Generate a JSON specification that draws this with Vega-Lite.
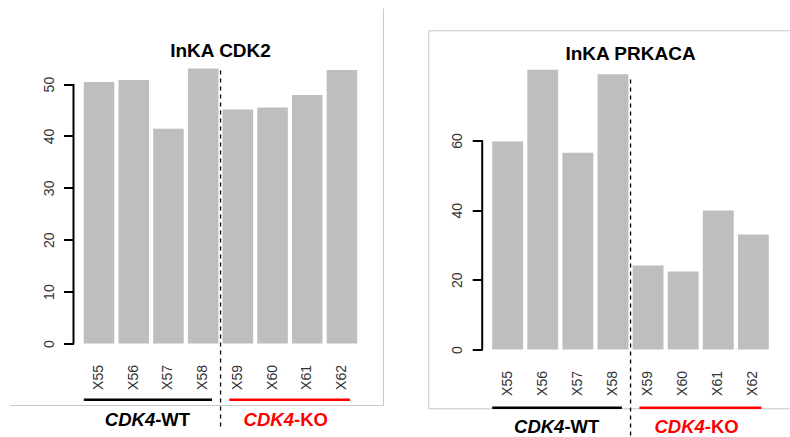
{
  "$schema": "https://vega.github.io/schema/vega-lite/v6.json",
  "padding": {"left": 9.5, "top": 7.5, "right": 0, "bottom": 0},
  "bounds": "flush",
  "spacing": 98.7,
  "config": {
    "font": "Liberation Sans",
    "view": {"stroke": null},
    "axis": {"grid": false},
    "axisX": {"domain": false, "ticks": false, "labelAngle": -90, "labelAlign": "right", "labelBaseline": "middle", "labelPadding": 21, "labelFontSize": 14, "labelColor": "#333333"},
    "axisY": {"domain": false, "ticks": true, "tickSize": 10, "tickWidth": 2, "tickColor": "#000000", "labelAngle": -90, "labelAlign": "center", "labelBaseline": "alphabetic", "labelPadding": 10, "labelFontSize": 14, "labelColor": "#333333"}
  },
  "datasets": {
    "cdk2": [
      {"sample": "X55", "value": 50.4},
      {"sample": "X56", "value": 50.8},
      {"sample": "X57", "value": 41.4},
      {"sample": "X58", "value": 53.0},
      {"sample": "X59", "value": 45.1},
      {"sample": "X60", "value": 45.5},
      {"sample": "X61", "value": 47.9},
      {"sample": "X62", "value": 52.7}
    ],
    "prkaca": [
      {"sample": "X55", "value": 59.7},
      {"sample": "X56", "value": 80.3},
      {"sample": "X57", "value": 56.5},
      {"sample": "X58", "value": 79.0},
      {"sample": "X59", "value": 24.1},
      {"sample": "X60", "value": 22.4},
      {"sample": "X61", "value": 39.9},
      {"sample": "X62", "value": 33.0}
    ],
    "groups": [
      {"group": "CDK4-WT", "gene": "CDK4", "suffix": "-WT", "first": "X55", "last": "X58", "split": "X57"},
      {"group": "CDK4-KO", "gene": "CDK4", "suffix": "-KO", "first": "X59", "last": "X62", "split": "X61"}
    ],
    "one": [{}]
  },
  "hconcat": [
    {
      "width": 310,
      "height": 283,
      "layer": [
        {
          "data": {"name": "cdk2"},
          "mark": {"type": "bar", "color": "#bebebe"},
          "encoding": {
            "x": {
              "field": "sample", "type": "nominal", "sort": null, "title": null,
              "scale": {"domain": ["X55", "X56", "X57", "X58", "X59", "X60", "X61", "X62"], "paddingInner": 0.12, "paddingOuter": 0.527, "align": 0.281}
            },
            "y": {
              "field": "value", "type": "quantitative", "title": null,
              "scale": {"domain": [0, 54.55], "nice": false, "zero": false},
              "axis": {"values": [0, 10, 20, 30, 40, 50]}
            }
          }
        },
        {
          "data": {"name": "one"},
          "mark": {"type": "text", "align": "center", "baseline": "alphabetic", "fontSize": 19, "fontWeight": "bold", "color": "#000000"},
          "encoding": {
            "x": {"datum": "X58", "type": "nominal", "bandPosition": 1.07, "title": null},
            "y": {"datum": 55.13, "type": "quantitative", "title": null, "scale": {"domain": [0, 54.55], "nice": false, "zero": false}},
            "text": {"value": "InKA CDK2"}
          }
        },
        {
          "data": {"name": "one"},
          "mark": {"type": "rule", "color": "#c8c8c8", "strokeWidth": 1},
          "encoding": {
            "x": {"datum": "X62", "type": "nominal", "bandPosition": 1.8605, "title": null},
            "y": {"datum": -11.95, "type": "quantitative", "title": null, "scale": {"domain": [0, 54.55], "nice": false, "zero": false}},
            "y2": {"datum": 64.57}
          }
        },
        {
          "data": {"name": "one"},
          "mark": {"type": "rule", "color": "#c8c8c8", "strokeWidth": 1},
          "encoding": {
            "x": {"datum": "X55", "type": "nominal", "bandPosition": -2.3995, "title": null},
            "x2": {"datum": "X62", "bandPosition": 1.8605},
            "y": {"datum": -11.95, "type": "quantitative", "title": null, "scale": {"domain": [0, 54.55], "nice": false, "zero": false}}
          }
        },
        {
          "data": {"name": "one"},
          "mark": {"type": "rule", "color": "#000000", "strokeWidth": 2},
          "encoding": {
            "x": {"datum": "X55", "type": "nominal", "bandPosition": -0.3366, "title": null},
            "y": {"datum": 0, "type": "quantitative", "title": null, "scale": {"domain": [0, 54.55], "nice": false, "zero": false}},
            "y2": {"datum": 50}
          }
        },
        {
          "data": {"name": "one"},
          "mark": {"type": "rule", "color": "#000000", "strokeWidth": 1.3, "strokeDash": [4, 4]},
          "encoding": {
            "x": {"datum": "X58", "type": "nominal", "bandPosition": 1.07, "title": null},
            "y": {"datum": 52.62, "type": "quantitative", "title": null, "scale": {"domain": [0, 54.55], "nice": false, "zero": false}},
            "y2": {"datum": -16.19}
          }
        },
        {
          "data": {"name": "groups"},
          "transform": [{"filter": "datum.group === 'CDK4-WT'"}],
          "mark": {"type": "rule", "strokeWidth": 2.5},
          "encoding": {
            "x": {"field": "first", "type": "nominal", "bandPosition": 0, "title": null},
            "x2": {"field": "last", "bandPosition": 0.79},
            "y": {"datum": -10.85, "type": "quantitative", "title": null, "scale": {"domain": [0, 54.55], "nice": false, "zero": false}},
            "color": {"field": "group", "type": "nominal", "scale": {"domain": ["CDK4-WT", "CDK4-KO"], "range": ["#000000", "#ff0000"]}, "legend": null}
          }
        },
        {
          "data": {"name": "groups"},
          "transform": [{"filter": "datum.group === 'CDK4-KO'"}],
          "mark": {"type": "rule", "strokeWidth": 2.5},
          "encoding": {
            "x": {"field": "first", "type": "nominal", "bandPosition": 0.22, "title": null},
            "x2": {"field": "last", "bandPosition": 0.76},
            "y": {"datum": -10.85, "type": "quantitative", "title": null, "scale": {"domain": [0, 54.55], "nice": false, "zero": false}},
            "color": {"field": "group", "type": "nominal", "scale": {"domain": ["CDK4-WT", "CDK4-KO"], "range": ["#000000", "#ff0000"]}, "legend": null}
          }
        },
        {
          "data": {"name": "groups"},
          "mark": {"type": "text", "align": "right", "baseline": "alphabetic", "dx": 2, "fontSize": 18.5, "fontWeight": "bold", "fontStyle": "italic"},
          "encoding": {
            "x": {"field": "split", "type": "nominal", "bandPosition": 0, "title": null},
            "y": {"datum": -15.81, "type": "quantitative", "title": null, "scale": {"domain": [0, 54.55], "nice": false, "zero": false}},
            "text": {"field": "gene"},
            "color": {"field": "group", "type": "nominal", "scale": {"domain": ["CDK4-WT", "CDK4-KO"], "range": ["#000000", "#ff0000"]}, "legend": null}
          }
        },
        {
          "data": {"name": "groups"},
          "mark": {"type": "text", "align": "left", "baseline": "alphabetic", "dx": 2, "fontSize": 18.5, "fontWeight": "bold"},
          "encoding": {
            "x": {"field": "split", "type": "nominal", "bandPosition": 0, "title": null},
            "y": {"datum": -15.81, "type": "quantitative", "title": null, "scale": {"domain": [0, 54.55], "nice": false, "zero": false}},
            "text": {"field": "suffix"},
            "color": {"field": "group", "type": "nominal", "scale": {"domain": ["CDK4-WT", "CDK4-KO"], "range": ["#000000", "#ff0000"]}, "legend": null}
          }
        }
      ]
    },
    {
      "width": 307.3,
      "height": 289,
      "layer": [
        {
          "data": {"name": "prkaca"},
          "mark": {"type": "bar", "color": "#bebebe"},
          "encoding": {
            "x": {
              "field": "sample", "type": "nominal", "sort": null, "title": null,
              "scale": {"domain": ["X55", "X56", "X57", "X58", "X59", "X60", "X61", "X62"], "paddingInner": 0.12, "paddingOuter": 0.4373, "align": 0.326}
            },
            "y": {
              "field": "value", "type": "quantitative", "title": null,
              "scale": {"domain": [0, 82.97], "nice": false, "zero": false},
              "axis": {"values": [0, 20, 40, 60], "labelPadding": 11}
            }
          }
        },
        {
          "data": {"name": "one"},
          "mark": {"type": "text", "align": "center", "baseline": "alphabetic", "fontSize": 19, "fontWeight": "bold", "color": "#000000"},
          "encoding": {
            "x": {"datum": "X58", "type": "nominal", "bandPosition": 1.07, "title": null},
            "y": {"datum": 83.17, "type": "quantitative", "title": null, "scale": {"domain": [0, 82.97], "nice": false, "zero": false}},
            "text": {"value": "InKA PRKACA"}
          }
        },
        {
          "data": {"name": "one"},
          "mark": {"type": "rule", "color": "#c8c8c8", "strokeWidth": 1},
          "encoding": {
            "x": {"datum": "X55", "type": "nominal", "bandPosition": -2.0524, "title": null},
            "x2": {"datum": "X62", "bandPosition": 1.6704},
            "y": {"datum": 91.5, "type": "quantitative", "title": null, "scale": {"domain": [0, 82.97], "nice": false, "zero": false}}
          }
        },
        {
          "data": {"name": "one"},
          "mark": {"type": "rule", "color": "#c8c8c8", "strokeWidth": 1},
          "encoding": {
            "x": {"datum": "X55", "type": "nominal", "bandPosition": -2.0524, "title": null},
            "x2": {"datum": "X62", "bandPosition": 1.6704},
            "y": {"datum": -17.02, "type": "quantitative", "title": null, "scale": {"domain": [0, 82.97], "nice": false, "zero": false}}
          }
        },
        {
          "data": {"name": "one"},
          "mark": {"type": "rule", "color": "#c8c8c8", "strokeWidth": 1},
          "encoding": {
            "x": {"datum": "X55", "type": "nominal", "bandPosition": -2.0524, "title": null},
            "y": {"datum": -17.02, "type": "quantitative", "title": null, "scale": {"domain": [0, 82.97], "nice": false, "zero": false}},
            "y2": {"datum": 91.5}
          }
        },
        {
          "data": {"name": "one"},
          "mark": {"type": "rule", "color": "#000000", "strokeWidth": 2},
          "encoding": {
            "x": {"datum": "X55", "type": "nominal", "bandPosition": -0.3237, "title": null},
            "y": {"datum": 0, "type": "quantitative", "title": null, "scale": {"domain": [0, 82.97], "nice": false, "zero": false}},
            "y2": {"datum": 60}
          }
        },
        {
          "data": {"name": "one"},
          "mark": {"type": "rule", "color": "#000000", "strokeWidth": 1.3, "strokeDash": [4, 4]},
          "encoding": {
            "x": {"datum": "X58", "type": "nominal", "bandPosition": 1.07, "title": null},
            "y": {"datum": 77.52, "type": "quantitative", "title": null, "scale": {"domain": [0, 82.97], "nice": false, "zero": false}},
            "y2": {"datum": -24.83}
          }
        },
        {
          "data": {"name": "groups"},
          "transform": [{"filter": "datum.group === 'CDK4-WT'"}],
          "mark": {"type": "rule", "strokeWidth": 2.5},
          "encoding": {
            "x": {"field": "first", "type": "nominal", "bandPosition": 0, "title": null},
            "x2": {"field": "last", "bandPosition": 0.79},
            "y": {"datum": -16.74, "type": "quantitative", "title": null, "scale": {"domain": [0, 82.97], "nice": false, "zero": false}},
            "color": {"field": "group", "type": "nominal", "scale": {"domain": ["CDK4-WT", "CDK4-KO"], "range": ["#000000", "#ff0000"]}, "legend": null}
          }
        },
        {
          "data": {"name": "groups"},
          "transform": [{"filter": "datum.group === 'CDK4-KO'"}],
          "mark": {"type": "rule", "strokeWidth": 2.5},
          "encoding": {
            "x": {"field": "first", "type": "nominal", "bandPosition": 0.22, "title": null},
            "x2": {"field": "last", "bandPosition": 0.76},
            "y": {"datum": -16.74, "type": "quantitative", "title": null, "scale": {"domain": [0, 82.97], "nice": false, "zero": false}},
            "color": {"field": "group", "type": "nominal", "scale": {"domain": ["CDK4-WT", "CDK4-KO"], "range": ["#000000", "#ff0000"]}, "legend": null}
          }
        },
        {
          "data": {"name": "groups"},
          "mark": {"type": "text", "align": "right", "baseline": "alphabetic", "dx": 2, "fontSize": 18.5, "fontWeight": "bold", "fontStyle": "italic"},
          "encoding": {
            "x": {"field": "split", "type": "nominal", "bandPosition": 0, "title": null},
            "y": {"datum": -23.83, "type": "quantitative", "title": null, "scale": {"domain": [0, 82.97], "nice": false, "zero": false}},
            "text": {"field": "gene"},
            "color": {"field": "group", "type": "nominal", "scale": {"domain": ["CDK4-WT", "CDK4-KO"], "range": ["#000000", "#ff0000"]}, "legend": null}
          }
        },
        {
          "data": {"name": "groups"},
          "mark": {"type": "text", "align": "left", "baseline": "alphabetic", "dx": 2, "fontSize": 18.5, "fontWeight": "bold"},
          "encoding": {
            "x": {"field": "split", "type": "nominal", "bandPosition": 0, "title": null},
            "y": {"datum": -23.83, "type": "quantitative", "title": null, "scale": {"domain": [0, 82.97], "nice": false, "zero": false}},
            "text": {"field": "suffix"},
            "color": {"field": "group", "type": "nominal", "scale": {"domain": ["CDK4-WT", "CDK4-KO"], "range": ["#000000", "#ff0000"]}, "legend": null}
          }
        }
      ]
    }
  ]
}
